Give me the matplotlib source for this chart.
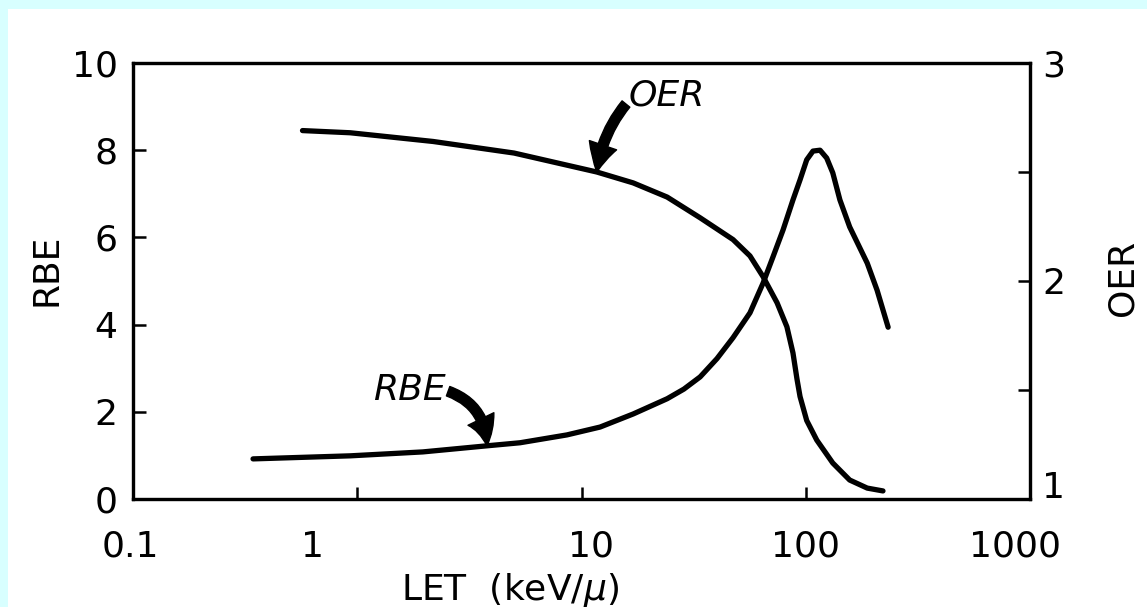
import matplotlib
matplotlib.use("Agg")
import matplotlib.pyplot as plt
import matplotlib.transforms as mtransforms
from matplotlib.patches import Rectangle

# ---- data ----
let_oer = [0.57, 0.93, 2.18, 5.0, 11.7, 17.0, 24.1, 33.8, 47.4, 56.4, 64.5, 74.5, 82.4, 87.7,
           91.4, 94.3, 101, 112, 132, 157, 188, 221]
oer_vals = [2.69, 2.68, 2.64, 2.587, 2.50, 2.45, 2.385, 2.29, 2.19, 2.115, 2.02, 1.90, 1.79, 1.67,
            1.55, 1.47, 1.36, 1.27, 1.165, 1.087, 1.05, 1.037]

let_rbe = [0.343, 0.93, 1.96, 3.79, 5.32, 8.61, 12.1, 17.0, 24.1, 28.6, 33.8, 40.2, 47.4, 56.4, 64.5,
           71.4, 79.2, 87.7, 94.3, 101, 107.7, 115.8, 124, 132, 142, 157, 188, 208, 233]
rbe_vals = [0.92, 0.99, 1.08, 1.22, 1.29, 1.47, 1.65, 1.95, 2.30, 2.52, 2.80, 3.22, 3.70, 4.27, 4.95,
            5.55, 6.17, 6.86, 7.32, 7.78, 7.98, 8.0, 7.82, 7.48, 6.86, 6.24, 5.41, 4.79, 3.94]

x_ticks = [0.1, 1, 10, 100, 1000]
x_ticklabels = ["0.1", "1", "10", "100", "1000"]
rbe_ticks = [0, 2, 4, 6, 8, 10]
oer_ticks = [1, 1.5, 2, 2.5, 3]
oer_ticklabels = ["1", "", "2", "", "3"]

W, H, DPI = 1147, 607, 100
fig = plt.figure(figsize=(W / DPI, H / DPI), dpi=DPI)
fig.patch.set_facecolor("#d8ffff")
bg = Rectangle((8 / W, 0), 1 - 8 / W, 1 - 9 / H, transform=fig.transFigure,
               facecolor="white", edgecolor="none", zorder=-10)
fig.add_artist(bg)

ax = fig.add_axes([133 / W, 1 - 499 / H, (1030 - 133) / W, (499 - 63) / H])
ax.set_zorder(1)
ax.set_facecolor("white")
ax.set_xscale("log")
ax.set_xlim(0.1, 1000)
ax.set_ylim(0, 10)

ax2 = ax.twinx()
ax2.set_zorder(2)
ax2.set_ylim(1, 3)

lw = 3.8
ax.plot(let_rbe, rbe_vals, color="black", lw=lw, solid_capstyle="round", solid_joinstyle="round")
ax2.plot(let_oer, oer_vals, color="black", lw=lw, solid_capstyle="round", solid_joinstyle="round")

fs = 26
for a in (ax, ax2):
    for s in a.spines.values():
        s.set_linewidth(2.3)

ax.set_xticks(x_ticks)
ax.set_xticklabels(x_ticklabels)
ax.xaxis.set_minor_locator(matplotlib.ticker.NullLocator())
ax.tick_params(axis="x", direction="in", length=9, width=1.8, pad=22, labelsize=fs)
ax.set_yticks(rbe_ticks)
ax.tick_params(axis="y", direction="in", length=9, width=1.8, pad=11, labelsize=fs)
ax2.set_yticks(oer_ticks)
ax2.set_yticklabels(oer_ticklabels)
ax2.tick_params(axis="y", direction="in", length=9, width=1.8, pad=9, labelsize=fs)

# the lettered tick labels sit slightly off their tick marks in the original
x_offsets_px = [-3, -45, 9, 0, -15]
for lab, dx in zip(ax.get_xticklabels(), x_offsets_px):
    lab.set_transform(lab.get_transform() + mtransforms.ScaledTranslation(dx / DPI, 0, fig.dpi_scale_trans))
oer_dy = {"1": 14, "3": 0}
for lab in ax2.get_yticklabels():
    t = lab.get_text()
    if t in oer_dy:
        lab.set_transform(lab.get_transform() + mtransforms.ScaledTranslation(0, oer_dy[t] / DPI, fig.dpi_scale_trans))

ax.set_ylabel("RBE", fontsize=fs)
ax.yaxis.set_label_coords(-0.078, 0.525)
ax2.set_ylabel("OER", fontsize=fs)
ax2.yaxis.set_label_coords(1.084, 0.507)
ax.set_xlabel("LET  (keV/$\\mathit{\\mu}$)", fontsize=fs)
ax.xaxis.set_label_coords(0.42, -0.165)

arrow_kw = dict(arrowstyle="simple,tail_width=0.4,head_width=1.15,head_length=1.1",
                color="black", mutation_scale=18, shrinkA=0, shrinkB=0)
ax2.annotate("OER", xy=(11.7, 2.50), xytext=(23, 55), textcoords="offset points",
             fontsize=fs, style="italic", ha="left", va="center",
             arrowprops=dict(connectionstyle="arc3,rad=0.15", relpos=(0.0, 0.35), **arrow_kw))
ax.annotate("RBE", xy=(3.79, 1.22), xytext=(-30, 40), textcoords="offset points",
            fontsize=fs, style="italic", ha="right", va="center",
            arrowprops=dict(connectionstyle="arc3,rad=-0.35", relpos=(1.0, 0.5), **arrow_kw))

fig.savefig("out.png", dpi=DPI, facecolor=fig.get_facecolor())
